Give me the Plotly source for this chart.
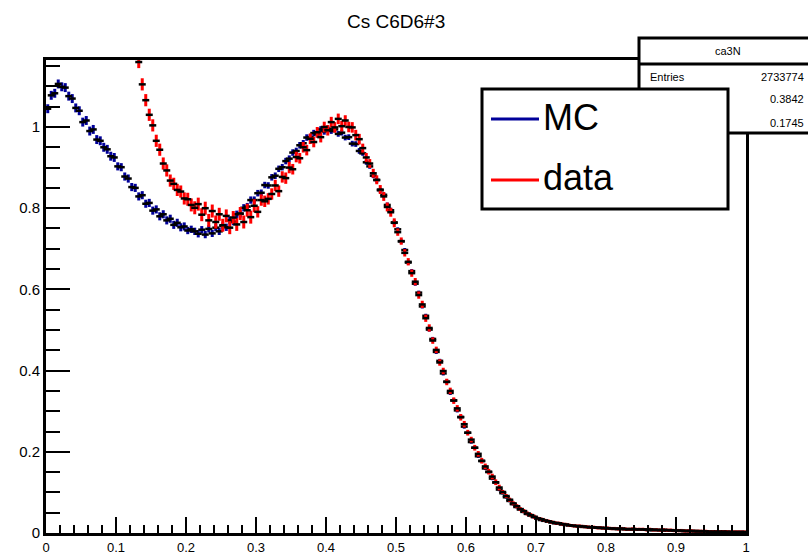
import numpy as np
import plotly.graph_objects as go

# ---------------- data ----------------
n_bins = 200
x_lo, x_hi = 0.0, 1.0
bin_centers = x_lo + (np.arange(n_bins) + 0.5) * (x_hi - x_lo) / n_bins

mc_values = [
    1.045, 1.078, 1.083, 1.106, 1.099, 1.097, 1.076, 1.070, 1.047, 1.040,
    1.012, 1.016, 0.990, 0.994, 0.969, 0.966, 0.950, 0.945, 0.928, 0.925,
    0.903, 0.901, 0.878, 0.873, 0.852, 0.850, 0.829, 0.832, 0.811, 0.813,
    0.794, 0.797, 0.780, 0.785, 0.770, 0.774, 0.759, 0.764, 0.753, 0.755,
    0.745, 0.748, 0.743, 0.737, 0.747, 0.735, 0.749, 0.738, 0.752, 0.743,
    0.756, 0.753, 0.770, 0.767, 0.785, 0.786, 0.801, 0.804, 0.820, 0.820,
    0.837, 0.838, 0.857, 0.856, 0.876, 0.880, 0.897, 0.901, 0.916, 0.922,
    0.937, 0.941, 0.955, 0.960, 0.974, 0.975, 0.985, 0.982, 0.994, 0.989,
    0.996, 0.990, 0.994, 0.983, 0.986, 0.974, 0.975, 0.959, 0.958, 0.941,
    0.935, 0.913, 0.903, 0.880, 0.869, 0.844, 0.833, 0.808, 0.795, 0.765,
    0.748, 0.718, 0.697, 0.666, 0.645, 0.614, 0.592, 0.558, 0.535, 0.501,
    0.478, 0.446, 0.424, 0.393, 0.373, 0.345, 0.327, 0.302, 0.286, 0.262,
    0.247, 0.224, 0.210, 0.189, 0.177, 0.159, 0.150, 0.134, 0.124, 0.107,
    0.098, 0.088, 0.079, 0.071, 0.064, 0.058, 0.052, 0.047, 0.043, 0.039,
    0.035, 0.032, 0.030, 0.028, 0.026, 0.024, 0.023, 0.021, 0.020, 0.019,
    0.018, 0.017, 0.016, 0.015, 0.015, 0.014, 0.013, 0.013, 0.012, 0.012,
    0.011, 0.011, 0.010, 0.010, 0.010, 0.009, 0.009, 0.009, 0.008, 0.008,
    0.008, 0.008, 0.007, 0.007, 0.007, 0.007, 0.006, 0.006, 0.006, 0.006,
    0.006, 0.005, 0.005, 0.005, 0.005, 0.005, 0.005, 0.004, 0.004, 0.004,
    0.004, 0.004, 0.004, 0.004, 0.003, 0.003, 0.003, 0.003, 0.003, 0.003,
]

data_values = [
    3.40, 3.20, 3.02, 2.86, 2.71, 2.57, 2.44, 2.32, 2.21, 2.11,
    2.02, 1.94, 1.86, 1.79, 1.72, 1.66, 1.60, 1.54, 1.49, 1.44,
    1.40, 1.36, 1.32, 1.28, 1.25, 1.21, 1.160, 1.105, 1.066, 1.030,
    1.004, 0.966, 0.944, 0.910, 0.893, 0.868, 0.860, 0.845, 0.841, 0.824,
    0.822, 0.808, 0.801, 0.810, 0.784, 0.800, 0.770, 0.793, 0.766, 0.785,
    0.758, 0.781, 0.752, 0.777, 0.760, 0.787, 0.766, 0.795, 0.778, 0.806,
    0.791, 0.820, 0.817, 0.823, 0.835, 0.856, 0.842, 0.877, 0.874, 0.900,
    0.896, 0.926, 0.923, 0.950, 0.943, 0.971, 0.963, 0.987, 0.975, 1.000,
    0.992, 1.012, 0.999, 1.020, 1.002, 1.016, 1.000, 0.999, 0.980, 0.970,
    0.948, 0.925, 0.910, 0.886, 0.870, 0.846, 0.829, 0.803, 0.790, 0.764,
    0.741, 0.719, 0.690, 0.668, 0.640, 0.619, 0.586, 0.563, 0.529, 0.505,
    0.474, 0.451, 0.420, 0.399, 0.372, 0.350, 0.326, 0.307, 0.285, 0.268,
    0.247, 0.230, 0.210, 0.195, 0.178, 0.164, 0.151, 0.139, 0.125, 0.112,
    0.101, 0.091, 0.082, 0.073, 0.066, 0.059, 0.054, 0.048, 0.044, 0.040,
    0.036, 0.034, 0.031, 0.029, 0.027, 0.025, 0.024, 0.022, 0.021, 0.019,
    0.018, 0.017, 0.017, 0.016, 0.015, 0.014, 0.014, 0.013, 0.013, 0.012,
    0.012, 0.011, 0.011, 0.010, 0.011, 0.010, 0.009, 0.010, 0.009, 0.009,
    0.009, 0.008, 0.009, 0.008, 0.008, 0.007, 0.008, 0.007, 0.007, 0.006,
    0.006, 0.006, 0.005, 0.005, 0.005, 0.004, 0.004, 0.004, 0.004, 0.003,
    0.003, 0.003, 0.003, 0.003, 0.003, 0.002, 0.002, 0.002, 0.002, 0.002,
]

# error bar size per block of 10 bins (0.05 wide)
mc_err_blocks = [0.011, 0.011, 0.010, 0.010, 0.009, 0.009, 0.008, 0.008, 0.007, 0.006,
                 0.005, 0.005, 0.004, 0.003, 0.003, 0.002, 0.002, 0.002, 0.002, 0.002]
data_err_blocks = [0.015, 0.015, 0.015, 0.015, 0.016, 0.016, 0.014, 0.013, 0.013, 0.011,
                   0.009, 0.008, 0.007, 0.005, 0.004, 0.004, 0.004, 0.004, 0.004, 0.004]
mc_err = np.repeat(mc_err_blocks, 10)
data_err = np.repeat(data_err_blocks, 10)

x_ticks = [0, 0.1, 0.2, 0.3, 0.4, 0.5, 0.6, 0.7, 0.8, 0.9, 1]
y_ticks = [0, 0.2, 0.4, 0.6, 0.8, 1]

title_text = "Cs C6D6#3"
stats_name = "ca3N"
stats_rows = [("Entries", "2733774"), (None, "0.3842"), (None, "0.1745")]
legend_items = [("MC", "#00009a"), ("data", "#ff0000")]

# ---------------- layout geometry ----------------
W, H = 808, 556
L, R, T, B = 46, 746, 60, 533


def px(xp):
    return (xp - L) / (R - L)


def py(yp):
    return (B - yp) / (B - T)


FONT = "Liberation Sans, Arial, sans-serif"

fig = go.Figure()

for vals, errs, col in [(mc_values, mc_err, legend_items[0][1]),
                        (data_values, data_err, legend_items[1][1])]:
    fig.add_trace(go.Scatter(
        x=bin_centers, y=vals, mode="markers",
        marker=dict(symbol="line-ew", size=5, color="black",
                    line=dict(color="black", width=2.5)),
        error_y=dict(type="data", array=errs, visible=True,
                     color=col, thickness=3, width=0),
        showlegend=False, hoverinfo="skip",
    ))

fig.update_layout(
    width=W, height=H,
    margin=dict(l=L, r=W - R, t=T, b=H - B, pad=0, autoexpand=False),
    paper_bgcolor="white", plot_bgcolor="white",
    showlegend=False,
    font=dict(family=FONT, color="black"),
)

fig.update_xaxes(
    range=[x_lo, x_hi], tickvals=x_ticks, ticks="inside", ticklen=16,
    tickwidth=2, tickcolor="black", showgrid=False, zeroline=False,
    showline=True, linecolor="black", linewidth=3, mirror=True,
    automargin=False,
    tickfont=dict(size=13, family=FONT),
    minor=dict(ticks="inside", ticklen=8, tickwidth=2, tickcolor="black",
               dtick=0.02, showgrid=False),
)
fig.update_yaxes(
    range=[0, 1.165], tickvals=y_ticks, ticks="inside", ticklen=24,
    tickwidth=2, tickcolor="black", showgrid=False, zeroline=False,
    showline=True, linecolor="black", linewidth=3, mirror=True,
    automargin=False,
    tickfont=dict(size=15, family=FONT),
    minor=dict(ticks="inside", ticklen=14, tickwidth=2, tickcolor="black",
               dtick=0.05, showgrid=False),
)

shapes = []
ann = []

# title
ann.append(dict(text=title_text, x=px(396), y=py(22), xref="paper", yref="paper",
                showarrow=False, xanchor="center", yanchor="middle",
                font=dict(size=19, family=FONT, color="black")))

# stats box
shapes.append(dict(type="rect", xref="paper", yref="paper",
                   x0=px(639), x1=px(840), y0=py(133), y1=py(38),
                   line=dict(color="black", width=3), fillcolor="white", layer="above"))
shapes.append(dict(type="line", xref="paper", yref="paper",
                   x0=px(639), x1=px(840), y0=py(64), y1=py(64),
                   line=dict(color="black", width=3), layer="above"))
ann.append(dict(text=stats_name, x=px(728), y=py(51), xref="paper", yref="paper",
                showarrow=False, xanchor="center", yanchor="middle",
                font=dict(size=11, family=FONT, color="black")))
row_y = [77, 99, 123]
for (lab, val), yy in zip(stats_rows, row_y):
    if lab:
        ann.append(dict(text=lab, x=px(648), y=py(yy), xref="paper", yref="paper",
                        showarrow=False, xanchor="left", yanchor="middle",
                        font=dict(size=11, family=FONT, color="black")))
    ann.append(dict(text=val, x=px(806), y=py(yy), xref="paper", yref="paper",
                    showarrow=False, xanchor="right", yanchor="middle",
                    font=dict(size=11, family=FONT, color="black")))

# legend box
shapes.append(dict(type="rect", xref="paper", yref="paper",
                   x0=px(482), x1=px(728), y0=py(209), y1=py(89),
                   line=dict(color="black", width=3), fillcolor="white", layer="above"))
leg_y = [(119, 117), (180, 177)]
for (name, col), (ly, ty) in zip(legend_items, leg_y):
    shapes.append(dict(type="line", xref="paper", yref="paper",
                       x0=px(491), x1=px(539), y0=py(ly), y1=py(ly),
                       line=dict(color=col, width=3), layer="above"))
    ann.append(dict(text=name, x=px(541), y=py(ty), xref="paper", yref="paper",
                    showarrow=False, xanchor="left", yanchor="middle",
                    font=dict(size=36, family=FONT, color="black")))

fig.update_layout(shapes=shapes, annotations=ann)

fig.write_html("out.html",
               config={"displayModeBar": False, "staticPlot": True},
               post_script="document.body.style.margin='0px';"
                           "document.body.style.overflow='hidden';")
